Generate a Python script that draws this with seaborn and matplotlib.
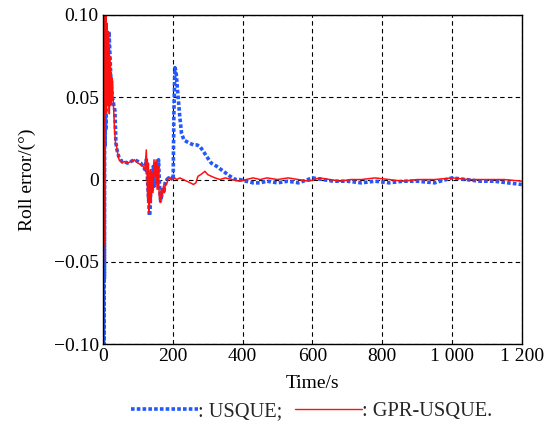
import numpy as np
import pandas as pd
import seaborn as sns
import matplotlib
matplotlib.use("Agg")
import matplotlib.pyplot as plt
from matplotlib.lines import Line2D
from matplotlib.ticker import FixedLocator, FixedFormatter

sns.set_theme(style="white")
plt.rcParams['font.family'] = ['Liberation Serif', 'DejaVu Serif']

# ---- data ----
t_usque = [0, 0.8, 1.6, 2.4, 3.2, 4, 5, 6, 7, 8, 9, 10, 12, 14, 17, 20, 23, 27, 31, 34, 37, 40, 45,
           50, 55, 60, 70, 80, 90, 100, 108, 115, 120, 124, 127, 130, 133, 135, 138, 141, 144, 147,
           150, 153, 156, 159, 162, 165, 168, 171, 174, 178, 183, 188, 193, 198, 201, 203, 206,
           209, 212, 216, 220, 225, 232, 240, 249, 260, 270, 278, 288, 297, 310, 326, 345, 364,
           380, 392, 410, 430, 450, 470, 500, 530, 560, 600, 630, 660, 700, 740, 780, 820, 860,
           900, 950, 1000, 1040, 1080, 1120, 1160, 1200]
v_usque = [0.0, -0.1, 0.1, -0.1, 0.08, -0.06, 0.1, 0.02, 0.09, 0.03, 0.085, 0.05, 0.07, 0.06, 0.09,
           0.075, 0.058, 0.05, 0.045, 0.042, 0.022, 0.018, 0.014, 0.012, 0.011, 0.011, 0.010,
           0.011, 0.012, 0.011, 0.010, 0.008, 0.006, 0.012, 0.002, -0.010, -0.022, -0.018, 0.004,
           -0.006, 0.008, -0.004, 0.011, 0.006, -0.002, 0.012, -0.004, -0.013, -0.010, -0.005,
           -0.008, -0.002, 0.0, 0.001, 0.0, 0.001, 0.0, 0.040, 0.068, 0.066, 0.058, 0.048, 0.038,
           0.028, 0.024, 0.023, 0.022, 0.021, 0.021, 0.020, 0.017, 0.014, 0.010, 0.008, 0.005,
           0.002, 0.0, 0.0, -0.001, -0.002, -0.002, -0.001, -0.002, -0.001, -0.002, 0.001, 0.0,
           -0.001, -0.001, -0.002, -0.001, -0.002, -0.001, -0.001, -0.002, 0.001, 0.0, -0.001,
           -0.001, -0.002, -0.003]

t_gpr = [0, 0.5, 1.0, 1.5, 2.0, 2.5, 3.0, 3.5, 4.0, 4.5, 5, 5.5, 6, 6.5, 7, 7.5, 8, 8.5, 9, 9.5,
         10, 11, 12, 13, 14, 15, 16, 17, 18, 19, 20, 21, 22, 23, 24, 25, 26, 27, 28, 30, 33, 36,
         39, 42, 46, 50, 55, 60, 70, 80, 90, 100, 108, 115, 120, 124,
         126, 128, 130, 132, 134, 136, 138, 140, 143, 146, 149, 152, 155, 158, 161, 164, 167, 170,
         173, 176, 179, 182, 186, 190, 195, 200, 205, 211, 220, 230, 240, 250, 259, 266, 272, 280,
         286, 292, 296, 300, 310, 321, 335, 350, 370, 390, 410, 430, 450, 470, 500, 530, 560, 590,
         620, 650, 680, 710, 740, 780, 820, 860, 900, 950, 1000, 1050, 1100, 1150, 1200]
v_gpr = [0.0, 0.1, -0.05, 0.1, -0.04, 0.1, -0.03, 0.1, 0.0, 0.1, 0.02, 0.1, 0.04, 0.1, 0.05, 0.095,
         0.04, 0.1, 0.05, 0.09, 0.045, 0.095, 0.05, 0.085, 0.045, 0.09, 0.05, 0.08, 0.04, 0.075,
         0.05, 0.07, 0.045, 0.065, 0.055, 0.062, 0.048, 0.06, 0.052, 0.045, 0.03,
         0.022, 0.02, 0.016, 0.012, 0.011, 0.010, 0.011, 0.010, 0.011, 0.012, 0.010, 0.009, 0.008,
         0.006, 0.018, 0.004, -0.012, 0.010, -0.020, -0.010, 0.006, -0.014, 0.004, -0.008, 0.012,
         0.002, 0.012, -0.006, 0.008, -0.010, -0.014, -0.006, -0.010, -0.004, -0.008, -0.002,
         -0.003, 0.0, 0.001, 0.0, 0.0, 0.001, 0.0, 0.001, 0.0, -0.001, -0.002, -0.003, -0.002,
         0.002, 0.003, 0.004, 0.005, 0.004, 0.003, 0.002, 0.001, 0.0, 0.001, 0.0, -0.001, 0.0,
         0.001, 0.0, 0.001, 0.0, 0.001, 0.0, -0.001, 0.001, 0.0, -0.001, 0.0, 0.0, 0.001, 0.0,
         -0.001, 0.0, 0.0, 0.001, 0.0, 0.0, 0.0, -0.001]

x_ticks = [0, 200, 400, 600, 800, 1000, 1200]
x_labels = ["0", "200", "400", "600", "800", "1 000", "1 200"]
y_ticks = [-0.10, -0.05, 0, 0.05, 0.10]
y_labels = ["\u22120.10", "\u22120.05", "0", "0.05", "0.10"]

df_u = pd.DataFrame({"t": t_usque, "v": v_usque})
df_g = pd.DataFrame({"t": t_gpr, "v": v_gpr})

blue = "#2458ff"
red = "#ff1010"
fs = 14

fig = plt.figure(figsize=(5.51, 4.28), dpi=100)
ax = fig.add_axes([0.187, 0.196, 0.760, 0.769])

sns.lineplot(data=df_u, x="t", y="v", ax=ax, estimator=None, sort=False, color=blue,
             linewidth=2.6, linestyle=(0, (1.0, 0.6)))
sns.lineplot(data=df_g, x="t", y="v", ax=ax, estimator=None, sort=False, color=red,
             linewidth=1.1)
for ln in ax.get_lines():
    ln.set_dash_capstyle('butt')

ax.set_xlim(0, 1200)
ax.set_ylim(-0.1, 0.1)
ax.xaxis.set_major_locator(FixedLocator(x_ticks))
ax.xaxis.set_major_formatter(FixedFormatter(x_labels))
ax.yaxis.set_major_locator(FixedLocator(y_ticks))
ax.yaxis.set_major_formatter(FixedFormatter(y_labels))
ax.grid(True, color="black", linestyle=(0, (4, 3)), linewidth=0.8)
ax.tick_params(direction="in", length=3, labelsize=fs, colors="black", pad=3)
for s in ax.spines.values():
    s.set_color("black")
    s.set_linewidth(1.0)
ax.set_xlabel("Time/s", fontsize=fs, labelpad=7, color="black")
ax.set_ylabel("Roll error/(°)", fontsize=fs, labelpad=13, color="black")

handles = [Line2D([], [], color=blue, linewidth=2.6, linestyle=(0, (1.0, 0.6)), dash_capstyle='butt'),
           Line2D([], [], color=red, linewidth=1.0)]
fig.legend(handles, [": USQUE;", ": GPR-USQUE."], loc="center", bbox_to_anchor=(0.566, 0.038),
           ncol=2, frameon=False, fontsize=14.7, handlelength=3.3, handletextpad=0.0,
           columnspacing=0.6, borderpad=0)

fig.savefig("out.png", dpi=100)
